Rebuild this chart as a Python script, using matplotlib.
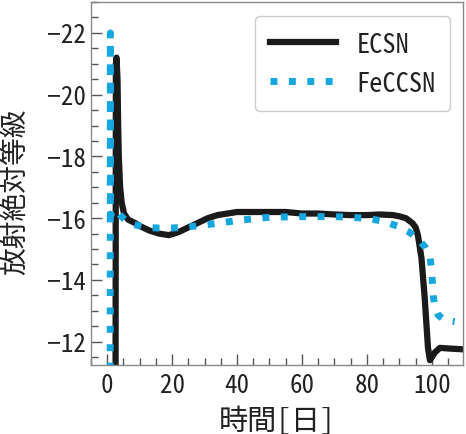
import matplotlib
matplotlib.use("Agg")
import matplotlib.pyplot as plt
from matplotlib.ticker import MultipleLocator

# Data
ecsn_t = [2.6, 2.7, 2.9, 3.2, 3.4, 3.6, 4.0, 4.5, 5.2, 6.5, 8.5, 10, 13, 16, 19, 22, 25, 28,
          31, 34, 37, 40, 45, 50, 55, 60, 65, 70, 75, 80, 84, 88, 90, 92, 94, 95, 95.7,
          96.8, 97.8, 98.8, 99.4, 100.9, 102.5, 105, 110]
ecsn_mag = [-10.5, -21.0, -21.2, -20.5, -19.0, -18.0, -17.0, -16.5, -16.15, -15.95, -15.85,
            -15.75, -15.6, -15.5, -15.45, -15.55, -15.7, -15.85, -16.0, -16.1, -16.15, -16.2,
            -16.2, -16.2, -16.2, -16.15, -16.15, -16.12, -16.1, -16.1, -16.12, -16.1, -16.06,
            -16.0, -15.84, -15.7, -15.45, -14.7, -13.4, -11.8, -11.4, -11.65, -11.8, -11.78,
            -11.75]

feccsn_t = [0.95, 1.0, 1.05, 2.5, 4, 6, 8, 12, 16, 20, 25, 30, 35, 40, 45, 50, 60, 70, 80,
            85, 90, 93, 96, 98, 99.5, 100, 100.4, 101, 102, 104, 107]
feccsn_mag = [-10.5, -22.0, -16.1, -16.3, -16.1, -15.9, -15.8, -15.7, -15.68, -15.68, -15.72,
              -15.78, -15.85, -15.92, -15.98, -16.03, -16.05, -16.05, -16.0, -15.9, -15.72,
              -15.55, -15.3, -15.05, -14.7, -14.2, -13.5, -13.1, -12.85, -12.7, -12.65]

series_labels = ["ECSN", "FeCCSN"]
xlabel = "時間[日]"
ylabel = "放射絶対等級"

fam = ['Noto Sans Mono CJK JP', 'Noto Sans CJK JP', 'DejaVu Sans']
plt.rcParams['font.family'] = fam

fig = plt.figure(figsize=(4.66, 4.35), dpi=100)
ax = fig.add_axes([0.195, 0.159, 0.798, 0.834])

ax.plot(ecsn_t, ecsn_mag, color='#1a1a1a', lw=4.5, label=series_labels[0], zorder=2)
ax.plot(feccsn_t, feccsn_mag, color='#16a6e0', lw=5, ls=':', label=series_labels[1], zorder=3)

ax.set_xlim(-5, 109.5)
ax.set_ylim(-11.25, -23)

ax.xaxis.set_major_locator(MultipleLocator(20))
ax.xaxis.set_minor_locator(MultipleLocator(5))
ax.yaxis.set_major_locator(MultipleLocator(2))
ax.yaxis.set_minor_locator(MultipleLocator(0.5))

ax.tick_params(which='both', direction='in', colors='#555555', labelcolor='#222222')
ax.tick_params(which='major', length=8, width=1, labelsize=18)
ax.tick_params(axis='x', which='major', pad=6)
ax.tick_params(which='minor', length=5, width=1)
for s in ax.spines.values():
    s.set_color('#888888')
    s.set_linewidth(1)

ax.set_xlabel(xlabel, fontsize=21, color='#222222', labelpad=6)
ax.set_ylabel(ylabel, fontsize=20, color='#222222')
ax.yaxis.set_label_coords(-0.165, 0.479)

leg = ax.legend(loc='upper right', bbox_to_anchor=(0.967, 0.961), borderaxespad=0,
                fontsize=19, handlelength=2.5, handletextpad=0.8, fancybox=True,
                framealpha=1, edgecolor='#cccccc', labelspacing=0.45, borderpad=0.55)
for t in leg.get_texts():
    t.set_color('#222222')

fig.savefig('out.png', dpi=100)
